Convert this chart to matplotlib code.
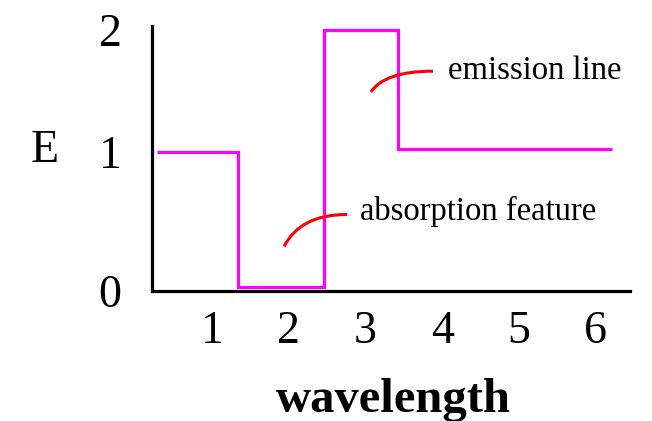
import numpy as np
import matplotlib
matplotlib.use("Agg")
import matplotlib.pyplot as plt
from matplotlib.path import Path
from matplotlib.patches import PathPatch

# Data
edges = [0.28, 1.34, 2.46, 3.42, 6.21]
levels = [1.0, 0.03, 2.0, 1.02]
xticks = [1, 2, 3, 4, 5, 6]
yticks = [0, 1, 2]
ann_labels = ["emission line", "absorption feature"]
ann_start = [(3.07, 1.49), (1.94, 0.32)]
ann_ctrl = [(3.25, 1.66), (2.15, 0.55)]
ann_end = [(3.88, 1.66), (2.76, 0.55)]
ann_text = [(4.07, 1.66), (2.93, 0.57)]

# the drawing's E axis is not evenly spaced: piecewise scale
E_pts = [0, 1, 2, 3]
H_pts = [0, 139, 261, 383]
fwd = lambda e: np.interp(e, E_pts, H_pts)
inv = lambda h: np.interp(h, H_pts, E_pts)

plt.rcParams['font.family'] = ['Liberation Serif', 'DejaVu Serif']

fig = plt.figure(figsize=(6.52, 4.21), dpi=100)
ax = fig.add_axes([152/652, 1-291/421, (630-152)/652, (291-26)/421])
ax.set_yscale('function', functions=(fwd, inv))

ax.stairs(levels, edges, color='#FF00FF', lw=2.3, baseline=None)

for lab, s, c, e, t in zip(ann_labels, ann_start, ann_ctrl, ann_end, ann_text):
    p = Path([s, c, e], [Path.MOVETO, Path.CURVE3, Path.CURVE3])
    ax.add_patch(PathPatch(p, fc='none', ec='red', lw=2.2))
    ax.text(t[0], t[1], lab, fontsize=23.5, ha='left', va='center')

ax.set_xlim(0.219, 6.445)
ax.set_ylim(0, 2.03)
ax.set_xticks(xticks)
ax.set_yticks(yticks)
ax.tick_params(length=0, labelsize=33)
ax.tick_params(axis='x', pad=14)
ax.tick_params(axis='y', pad=22)
for sp in ['top', 'right']:
    ax.spines[sp].set_visible(False)
for sp in ['left', 'bottom']:
    ax.spines[sp].set_linewidth(2.3)
    ax.spines[sp].set_color('black')

fig.text(393/652, 1-400/421, 'wavelength', fontsize=35, fontweight='bold',
         ha='center', va='center')
fig.text(45/652, 1-151/421, 'E', fontsize=33, ha='center', va='center')

fig.savefig('out.png', dpi=100)
